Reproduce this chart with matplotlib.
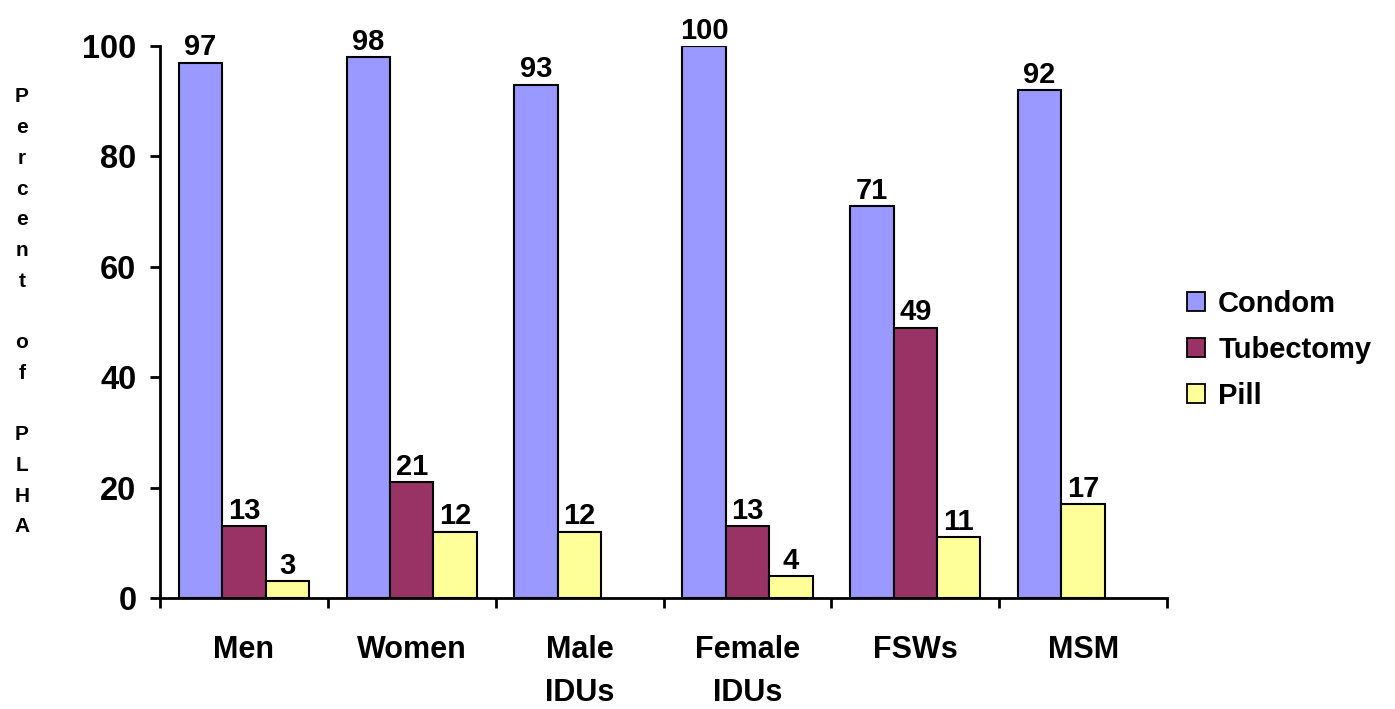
import numpy as np
import matplotlib.pyplot as plt
from matplotlib.patches import Patch

plt.rcParams['font.family'] = ['Liberation Sans', 'DejaVu Sans']
plt.rcParams['font.weight'] = 'bold'

groups = ['Men', 'Women', 'Male\nIDUs', 'Female\nIDUs', 'FSWs', 'MSM']
condom = [97, 98, 93, 100, 71, 92]
tubectomy = [13, 21, None, 13, 49, None]
pill = [3, 12, 12, 4, 11, 17]
series_names = ['Condom', 'Tubectomy', 'Pill']
colors = ['#9999FF', '#993366', '#FFFF99']

W, H = 1395, 709
fig = plt.figure(figsize=(W / 100, H / 100), dpi=100)
ax = fig.add_axes([160 / W, 1 - 598 / H, (1167 - 160) / W, (598 - 46) / H])

bw = 0.259
off = (1 - 3 * bw) / 2

for i in range(len(groups)):
    vals = [condom[i], tubectomy[i], pill[i]]
    slot = 0
    for k, v in enumerate(vals):
        if v is None:
            continue
        x = i + off + bw * (slot + 0.5)
        ax.bar(x, v, width=bw, color=colors[k], edgecolor='black', linewidth=1.5)
        ax.annotate(str(v), (x, v), xytext=(0, 1), textcoords='offset points',
                    ha='center', va='bottom', fontsize=21, fontweight='bold')
        slot += 1

ax.set_xlim(0, len(groups))
ax.set_ylim(0, 100)
ax.set_yticks(np.arange(0, 101, 20))
ax.tick_params(axis='y', labelsize=23.5, length=7, width=2, pad=10)
for lbl in ax.get_yticklabels():
    lbl.set_fontweight('bold')

# group boundaries get the ticks, centres get the labels
ax.set_xticks(np.arange(0, len(groups) + 1))
ax.set_xticklabels([])
ax.set_xticks(np.arange(len(groups)) + 0.5, minor=True)
ax.set_xticklabels(groups, minor=True, fontsize=22, fontweight='bold',
                   linespacing=1.55)
ax.tick_params(axis='x', which='major', length=7, width=2)
ax.tick_params(axis='x', which='minor', length=0, pad=27)

for s in ['top', 'right']:
    ax.spines[s].set_visible(False)
for s in ['left', 'bottom']:
    ax.spines[s].set_linewidth(2)

# stacked vertical axis title
ylab = 'Percent of PLHA'
ys = 97
for ch in ylab:
    if ch != ' ':
        fig.text(22 / W, 1 - ys / H, ch, ha='center', va='center',
                 fontsize=15, fontweight='bold')
    ys += 30.7

handles = [Patch(facecolor=c, edgecolor='black', linewidth=1.3) for c in colors]
fig.legend(handles, series_names, loc='center left',
           bbox_to_anchor=(1187 / W, 1 - 350 / H), frameon=False,
           prop={'size': 21, 'weight': 'bold'}, handlelength=0.62,
           handleheight=0.62, handletextpad=0.45, labelspacing=0.62,
           borderpad=0, borderaxespad=0)

fig.savefig('out.png', dpi=100)
